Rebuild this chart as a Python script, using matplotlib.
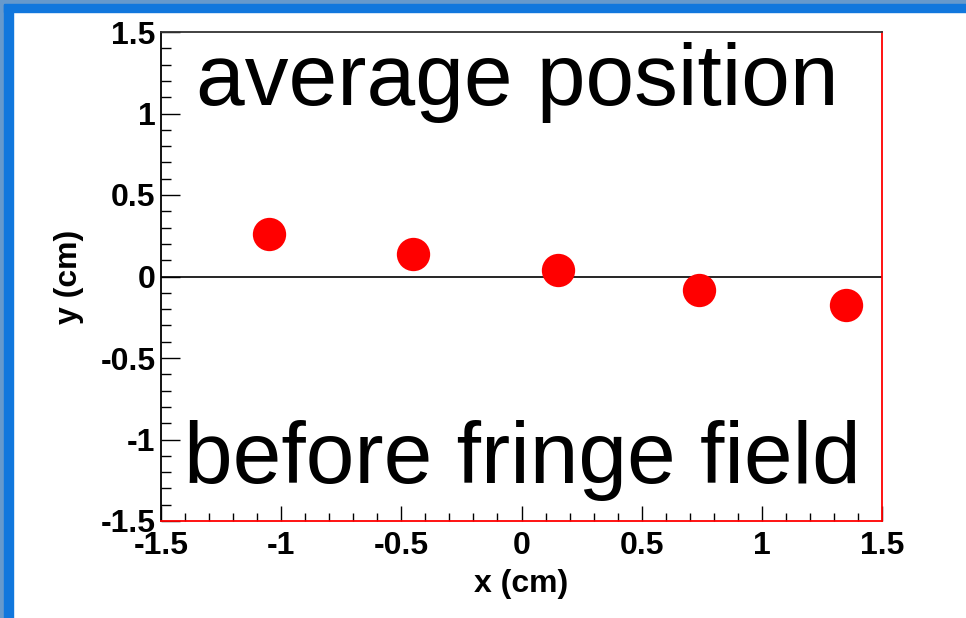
import matplotlib.pyplot as plt
import matplotlib.patches as patches
from matplotlib.ticker import MultipleLocator

# average position of the beam spots
x_pos = [-1.05, -0.45, 0.15, 0.74, 1.35]
y_pos = [0.26, 0.135, 0.04, -0.085, -0.175]

xticks = [-1.5, -1, -0.5, 0, 0.5, 1, 1.5]
yticks = [-1.5, -1, -0.5, 0, 0.5, 1, 1.5]
tick_labels = ['-1.5', '-1', '-0.5', '0', '0.5', '1', '1.5']

plt.rcParams['font.family'] = ['Liberation Sans', 'DejaVu Sans']

W, H = 966, 618
fig = plt.figure(figsize=(W / 100, H / 100), dpi=100)
ax = fig.add_axes([161 / W, (H - 521) / H, 721 / W, 489 / H])

# window frame on left and top
fig.patches.append(patches.Rectangle((0, 0), 4 / W, 1, transform=fig.transFigure, color='#6699cc', zorder=0))
fig.patches.append(patches.Rectangle((4 / W, 0), 9 / W, 1 - 4 / H, transform=fig.transFigure, color='#1177dd', zorder=0))
fig.patches.append(patches.Rectangle((0, 1 - 4 / H), 1, 4 / H, transform=fig.transFigure, color='#6699cc', zorder=0))
fig.patches.append(patches.Rectangle((4 / W, 1 - 12 / H), 1, 8 / H, transform=fig.transFigure, color='#1177dd', zorder=0))

ax.axhline(0, color='k', linewidth=1.2)
ax.plot(x_pos, y_pos, 'o', color='red', markersize=24, markeredgewidth=0)

ax.set_xlim(-1.5, 1.5)
ax.set_ylim(-1.5, 1.5)
ax.set_xticks(xticks)
ax.set_xticklabels(tick_labels)
ax.set_yticks(yticks)
ax.set_yticklabels(tick_labels)
ax.xaxis.set_minor_locator(MultipleLocator(0.1))
ax.yaxis.set_minor_locator(MultipleLocator(0.1))

ax.tick_params(axis='x', which='major', direction='in', length=11, width=1, labelsize=23, pad=7)
ax.tick_params(axis='x', which='minor', direction='in', length=6, width=1)
ax.tick_params(axis='y', which='major', direction='in', length=14, width=1, labelsize=23, pad=4)
ax.tick_params(axis='y', which='minor', direction='in', length=7, width=1)
for lab in ax.get_xticklabels() + ax.get_yticklabels():
    lab.set_fontweight('bold')

ax.spines['left'].set_color('black')
ax.spines['top'].set_color('#333333')
ax.spines['right'].set_color('red')
ax.spines['bottom'].set_color('red')
for s in ax.spines.values():
    s.set_linewidth(1.3)

ax.set_xlabel('x (cm)', fontsize=23, fontweight='bold', labelpad=6)
ax.set_ylabel('y (cm)', fontsize=23, fontweight='bold', labelpad=12)

ax.text(517 / W, 1 - 105 / H, 'average position', fontsize=63, ha='center',
        va='baseline', transform=fig.transFigure, color='black')
ax.text(522 / W, 1 - 483 / H, 'before fringe field', fontsize=63, ha='center',
        va='baseline', transform=fig.transFigure, color='black')

fig.savefig('out.png', dpi=100)
